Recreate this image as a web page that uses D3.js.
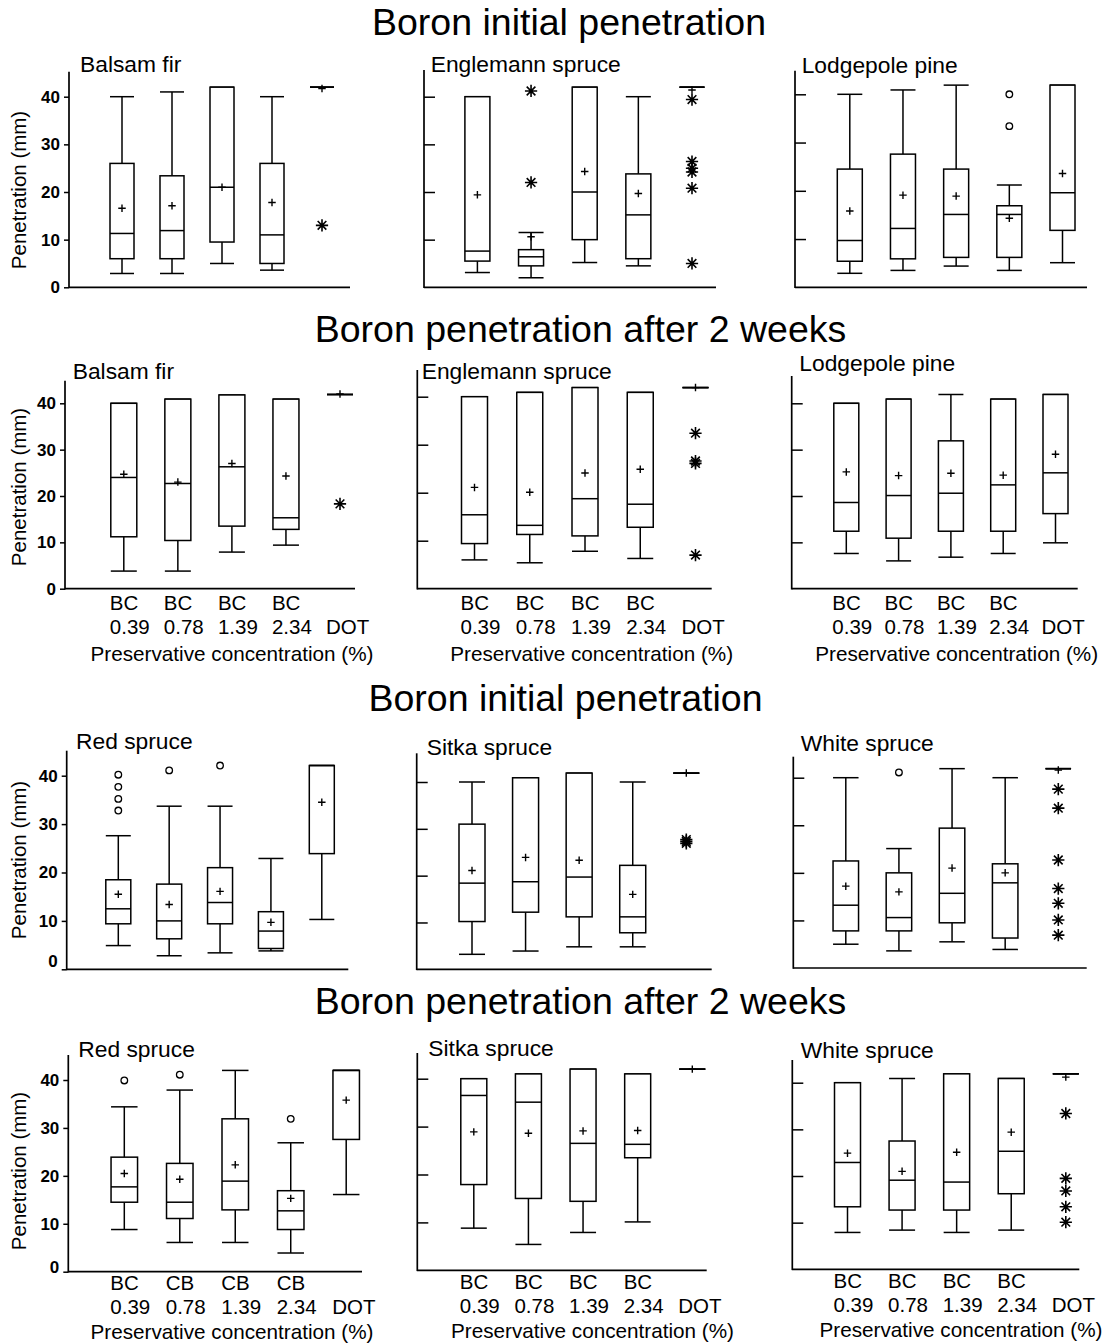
<!DOCTYPE html>
<html>
<head>
<meta charset="utf-8">
<script src="https://cdn.jsdelivr.net/npm/d3@7"></script>
<style>
  body { margin: 0; background: #fff; }
  svg { display: block; font-family: "Liberation Sans", Arial, sans-serif; }
</style>
</head>
<body>
<svg id="chart" width="1116" height="1343"></svg>
<script>
// ---- data ----------------------------------------------------------
var sectionTitles = ["Boron initial penetration", "Boron penetration after 2 weeks",
                     "Boron initial penetration", "Boron penetration after 2 weeks"];
var speciesA = ["Balsam fir", "Englemann spruce", "Lodgepole pine"];
var speciesB = ["Red spruce", "Sitka spruce", "White spruce"];
var yTicks = [0, 10, 20, 30, 40];
var productBC = ["BC", "BC", "BC", "BC", ""];
var productRed = ["BC", "CB", "CB", "CB", ""];
var concLabels = ["0.39", "0.78", "1.39", "2.34", "DOT"];
var xTitle = "Preservative concentration (%)";
var yTitle = "Penetration (mm)";

// each box: [low whisker, Q1, median, Q3, high whisker, mean]
// outliers: [group (1-5), value, "near" = circle | "far" = asterisk]
var balsamInit = [[2.9, 6, 11.3, 26, 40, 16.6], [2.9, 6, 11.9, 23.4, 41, 17.1],
  [5, 9.5, 21, 42, 42, 21], [3.6, 5, 11, 26, 40, 17.8], [42, 42, 42, 42, 42, 41.7]];
var balsamInitOut = [[5, 13, "far"]];

var englemannInit = [[3.1, 5.5, 7.6, 40, 40, 19.4], [2, 4.5, 6.4, 7.9, 11.5, 10.6],
  [5.2, 10, 20, 42, 42, 24.3], [4.5, 6, 15.2, 23.8, 40, 19.7], [42, 42, 42, 42, 42, 41.4]];
var englemannInitOut = [[2, 41.2, "far"], [2, 22, "far"], [5, 39.4, "far"], [5, 26.4, "far"],
  [5, 25, "far"], [5, 24.2, "far"], [5, 20.8, "far"], [5, 5, "far"]];

var lodgepoleInit = [[2.9, 5.4, 9.7, 24.5, 40, 15.8], [3.5, 5.9, 12.2, 27.6, 40.9, 19.1],
  [4.4, 6.2, 15.1, 24.5, 41.9, 18.9], [3.5, 6.2, 15.1, 16.9, 21.2, 14.3],
  [5.1, 11.8, 19.6, 41.9, 41.9, 23.6]];
var lodgepoleInitOut = [[4, 40, "near"], [4, 33.4, "near"]];

var balsam2w = [[3.8, 11.2, 24, 40, 40, 24.7], [3.8, 10.4, 22.7, 40.9, 40.9, 23],
  [7.9, 13.5, 26.3, 41.8, 41.8, 27], [9.4, 12.8, 15.3, 40.9, 40.9, 24.3],
  [41.9, 41.9, 41.9, 41.9, 41.9, 42]];
var balsam2wOut = [[5, 18.3, "far"]];

var englemann2w = [[6, 9.4, 15.4, 40, 40, 21.1], [5.4, 11.3, 13.2, 40.9, 40.9, 20.1],
  [7.8, 11, 18.75, 41.9, 41.9, 24.1], [6.3, 12.8, 17.6, 40.9, 40.9, 24.9],
  [41.9, 41.9, 41.9, 41.9, 41.9, 41.9]];
var englemann2wOut = [[5, 32.4, "far"], [5, 26.6, "far"], [5, 26.1, "far"], [5, 7, "far"]];

var lodgepole2w = [[7.6, 12.4, 18.6, 40, 40, 25.2], [6, 10.9, 20.1, 40.9, 40.9, 24.4],
  [6.8, 12.4, 20.6, 31.9, 41.9, 24.9], [7.6, 12.4, 22.4, 40.9, 40.9, 24.5],
  [9.9, 16.2, 25, 41.9, 41.9, 29]];
var lodgepole2wOut = [];

var redInit = [[4.9, 9.4, 12.5, 18.5, 27.6, 15.5], [2.8, 6.3, 10, 17.6, 33.7, 13.4],
  [3.4, 9.4, 13.8, 21, 33.7, 16.1], [3.8, 4.3, 7.9, 11.9, 22.9, 9.7],
  [10.3, 23.9, 42.1, 42.1, 42.1, 34.5]];
var redInitOut = [[1, 40.2, "near"], [1, 37.7, "near"], [1, 35.2, "near"], [1, 32.8, "near"],
  [2, 41.1, "near"], [3, 42.1, "near"]];

var sitkaInit = [[3.2, 10.2, 18.4, 31, 40, 21.1], [3.9, 12.2, 18.7, 40.9, 40.9, 23.9],
  [4.8, 11.2, 19.7, 41.9, 41.9, 23.3], [4.8, 7.8, 11.2, 22.2, 40, 16],
  [41.9, 41.9, 41.9, 41.9, 41.9, 41.9]];
var sitkaInitOut = [[5, 27.7, "far"], [5, 27.3, "far"], [5, 26.9, "far"]];

var whiteInit = [[5, 7.8, 13.2, 22.5, 40, 17.2], [3.6, 7.8, 10.6, 20, 25.1, 16],
  [5.5, 9.5, 15.7, 29.4, 41.9, 21], [3.9, 6.3, 17.9, 21.9, 40, 20],
  [41.9, 41.9, 41.9, 41.9, 41.9, 41.6]];
var whiteInitOut = [[2, 41.1, "near"], [5, 37.6, "far"], [5, 33.6, "far"], [5, 22.7, "far"],
  [5, 16.7, "far"], [5, 13.6, "far"], [5, 10.1, "far"], [5, 6.9, "far"]];

var red2w = [[8.8, 14.5, 17.7, 23.9, 34.4, 20.5], [6.1, 11.1, 14.5, 22.6, 37.9, 19.3],
  [6.1, 12.9, 18.9, 31.9, 42, 22.3], [3.9, 8.8, 12.7, 16.9, 26.9, 15.3],
  [16.1, 27.6, 42, 42, 42, 35.8]];
var red2wOut = [[1, 39.9, "near"], [2, 41.1, "near"], [4, 31.9, "near"]];

var sitka2w = [[8.8, 17.9, 36.5, 40, 40, 28.9], [5.4, 15, 35.1, 41, 41, 28.6],
  [7.9, 14.4, 26.5, 42, 42, 29.1], [10.1, 23.5, 26.3, 41, 41, 29.2],
  [42, 42, 42, 42, 42, 42]];
var sitka2wOut = [];

var white2w = [[7.9, 13.4, 22.9, 40, 40, 24.9], [8.4, 12.7, 19.1, 27.5, 40.9, 21],
  [7.9, 12.7, 18.7, 41.9, 41.9, 25.1], [8.4, 16.2, 25.3, 40.9, 40.9, 29.4],
  [41.9, 41.9, 41.9, 41.9, 41.9, 41.2]];
var white2wOut = [[5, 33.4, "far"], [5, 19.5, "far"], [5, 16.8, "far"], [5, 13.4, "far"], [5, 10.1, "far"]];

// ---- layout (pixels) -----------------------------------------------
var sectionLayout = [{x: 569, y: 35}, {x: 580.5, y: 342}, {x: 565.5, y: 711}, {x: 580.5, y: 1014}];

var layouts = [
  {x0: 69,    x1: 350,    c1: 122,   c5: 322,    y0: 287.3,  y40: 96.7,   top: 71.7,  tx: 80,    ty: 72,     bw: 24,   ly: 190,  z: 0},
  {x0: 424,   x1: 716,    c1: 477.4, c5: 692,    y0: 287.3,  y40: 96.7,   top: 70,    tx: 430.7, ty: 72.3,   bw: 25},
  {x0: 795,   x1: 1087,   c1: 849.8, c5: 1062.5, y0: 287.3,  y40: 94.3,   top: 70.7,  tx: 801.7, ty: 73.3,   bw: 25},
  {x0: 65,    x1: 355,    c1: 123.8, c5: 340,    y0: 588.7,  y40: 403.3,  top: 380.7, tx: 72.7,  ty: 379.3,  bw: 26,   ly: 487,  z: 0, ax: 232},
  {x0: 417.3, x1: 711.7,  c1: 474.5, c5: 695.5,  y0: 588.7,  y40: 396.7,  top: 370,   tx: 421.7, ty: 379.3,  bw: 26,   ax: 591.7},
  {x0: 791.7, x1: 1077.7, c1: 846.3, c5: 1055.5, y0: 588.7,  y40: 403.3,  top: 376,   tx: 799.3, ty: 370.7,  bw: 25,   ax: 956.7},
  {x0: 66.7,  x1: 348.3,  c1: 118.3, c5: 321.8,  y0: 969.3,  y40: 775.7,  top: 750.7, tx: 76,    ty: 749.3,  bw: 25,   ly: 860,  z: -8},
  {x0: 416.7, x1: 711.7,  c1: 472,   c5: 686.3,  y0: 969.3,  y40: 782,    top: 753.3, tx: 426.7, ty: 755,    bw: 26},
  {x0: 793.3, x1: 1086.7, c1: 845.8, c5: 1058.3, y0: 968,    y40: 777.7,  top: 756.7, tx: 800.7, ty: 750.7,  bw: 25.5},
  {x0: 68.3,  x1: 362,    c1: 124.3, c5: 346.2,  y0: 1271.7, y40: 1080,   top: 1055,  tx: 78.3,  ty: 1057.3, bw: 26.5, ly: 1171, z: -5, ax: 232},
  {x0: 417.3, x1: 706.7,  c1: 473.8, c5: 692.3,  y0: 1270.3, y40: 1078.7, top: 1053,  tx: 428.3, ty: 1056,   bw: 26,   ax: 592.5},
  {x0: 792.3, x1: 1079.3, c1: 847.5, c5: 1065.8, y0: 1269.3, y40: 1082.7, top: 1060,  tx: 800.7, ty: 1058.3, bw: 26,   ax: 961}
];
// offsets of the category label lines below the x axis, per row
var labelRows = {1: [21, 45, 72.5], 3: [18.5, 42.5, 67.5]};

var panels = [
  {title: speciesA[0], stats: balsamInit,    out: balsamInitOut},
  {title: speciesA[1], stats: englemannInit, out: englemannInitOut},
  {title: speciesA[2], stats: lodgepoleInit, out: lodgepoleInitOut},
  {title: speciesA[0], stats: balsam2w,      out: balsam2wOut,      top: productBC},
  {title: speciesA[1], stats: englemann2w,   out: englemann2wOut,   top: productBC},
  {title: speciesA[2], stats: lodgepole2w,   out: lodgepole2wOut,   top: productBC},
  {title: speciesB[0], stats: redInit,       out: redInitOut},
  {title: speciesB[1], stats: sitkaInit,     out: sitkaInitOut},
  {title: speciesB[2], stats: whiteInit,     out: whiteInitOut},
  {title: speciesB[0], stats: red2w,         out: red2wOut,         top: productRed},
  {title: speciesB[1], stats: sitka2w,       out: sitka2wOut,       top: productBC},
  {title: speciesB[2], stats: white2w,       out: white2wOut,       top: productBC}
];

// ---- symbols -------------------------------------------------------
var plusSymbol = {
  draw: function(ctx, size) {
    var r = Math.sqrt(size) / 2;
    ctx.moveTo(-r, 0); ctx.lineTo(r, 0);
    ctx.moveTo(0, -r); ctx.lineTo(0, r);
  }
};
var asteriskSymbol = {
  draw: function(ctx, size) {
    var r = Math.sqrt(size) / 2;
    for (var k = 0; k < 4; k++) {
      var a = k * Math.PI / 4;
      ctx.moveTo(-r * Math.cos(a), -r * Math.sin(a));
      ctx.lineTo(r * Math.cos(a), r * Math.sin(a));
    }
  }
};

var svg = d3.select("#chart");
var LW = 1.5;

svg.selectAll(".section-title")
  .data(sectionTitles)
  .enter().append("text")
    .attr("class", "section-title")
    .attr("x", (d, i) => sectionLayout[i].x)
    .attr("y", (d, i) => sectionLayout[i].y)
    .attr("text-anchor", "middle")
    .attr("font-size", 37.5)
    .text(d => d);

panels.forEach(function(p, idx) {
  var L = layouts[idx];
  var row = Math.floor(idx / 3);
  var labeled = idx % 3 === 0;
  var g = svg.append("g").attr("class", "panel");

  var x = d3.scaleLinear().domain([1, 5]).range([L.c1, L.c5]);
  var y = d3.scaleLinear().domain([0, 40]).range([L.y0, L.y40]);

  // axis lines
  g.append("line")
    .attr("x1", L.x0).attr("x2", L.x0).attr("y1", L.y0 + 0.8).attr("y2", L.top)
    .attr("stroke", "#000").attr("stroke-width", 1.7);
  g.append("line")
    .attr("x1", L.x0).attr("x2", L.x1).attr("y1", L.y0).attr("y2", L.y0)
    .attr("stroke", "#000").attr("stroke-width", 1.7);

  var yAxis;
  if (labeled) {
    yAxis = d3.axisLeft(y).tickValues(yTicks).tickSize(5).tickPadding(4);
  } else {
    yAxis = d3.axisRight(y).tickValues(yTicks.slice(1)).tickSize(11).tickFormat("");
  }
  var gy = g.append("g")
    .attr("transform", `translate(${L.x0},0)`)
    .call(yAxis);
  gy.select(".domain").remove();
  gy.attr("font-family", null).attr("font-size", null);
  gy.selectAll("line").attr("stroke-width", LW);
  gy.selectAll("text")
    .attr("font-size", 17)
    .attr("font-weight", "bold")
    .attr("fill", "#000");

  if (labeled) {
    // the zero label sits a little above the axis in the lower rows
    gy.selectAll(".tick").filter(d => d === 0).select("text")
      .attr("y", L.z);
    g.append("text")
      .attr("transform", `translate(25.5, ${L.ly}) rotate(-90)`)
      .attr("text-anchor", "middle")
      .attr("font-size", 20.5)
      .text(yTitle);
  }

  // panel title
  g.append("text")
    .attr("x", L.tx).attr("y", L.ty)
    .attr("font-size", 22.8)
    .text(p.title);

  // boxes
  var box = g.selectAll(".box")
    .data(p.stats)
    .enter().append("g")
      .attr("class", "box")
      .attr("transform", (d, i) => `translate(${x(i + 1)},0)`);

  var hw = L.bw / 2;
  box.append("line")   // lower whisker
    .attr("x1", 0).attr("x2", 0)
    .attr("y1", d => y(d[0])).attr("y2", d => y(d[1]));
  box.append("line")   // upper whisker
    .attr("x1", 0).attr("x2", 0)
    .attr("y1", d => y(d[3])).attr("y2", d => y(d[4]));
  box.append("line")   // lower cap
    .attr("x1", -hw).attr("x2", hw)
    .attr("y1", d => y(d[0])).attr("y2", d => y(d[0]));
  box.append("line")   // upper cap
    .attr("x1", -hw).attr("x2", hw)
    .attr("y1", d => y(d[4])).attr("y2", d => y(d[4]));
  box.append("rect")
    .attr("x", -hw).attr("width", L.bw)
    .attr("y", d => y(d[3]))
    .attr("height", d => y(d[1]) - y(d[3]))
    .attr("fill", "#fff");
  box.append("line")   // median
    .attr("x1", -hw).attr("x2", hw)
    .attr("y1", d => y(d[2])).attr("y2", d => y(d[2]));
  box.append("path")   // mean
    .attr("transform", d => `translate(0,${y(d[5])})`)
    .attr("d", d3.symbol().type(plusSymbol).size(56)());
  box.selectAll("line, rect, path")
    .attr("stroke", "#000")
    .attr("stroke-width", LW)
    .attr("fill", function() { return this.tagName === "rect" ? "#fff" : "none"; });
  box.selectAll("path").attr("stroke-width", 1.4);

  // outliers
  g.selectAll(".outlier")
    .data(p.out)
    .enter().append("path")
      .attr("class", "outlier")
      .attr("transform", d => `translate(${x(d[0])},${y(d[1])})`)
      .attr("d", d => d[2] === "near"
        ? d3.symbol().type(d3.symbolCircle).size(34)()
        : d3.symbol().type(asteriskSymbol).size(150)())
      .attr("fill", "none")
      .attr("stroke", "#000")
      .attr("stroke-width", d => d[2] === "near" ? 1.3 : 1.6);

  // two-line category labels (product / concentration) for the rows that carry them
  if (p.top) {
    var off = labelRows[row];
    var lab = g.selectAll(".cat")
      .data(concLabels)
      .enter().append("text")
        .attr("class", "cat")
        .attr("font-size", 20.5);
    lab.each(function(d, i) {
      var t = d3.select(this);
      var lx = x(i + 1) - 14;
      if (p.top[i]) {
        t.append("tspan").attr("x", lx).attr("y", L.y0 + off[0]).text(p.top[i]);
      }
      t.append("tspan").attr("x", lx).attr("y", L.y0 + off[1]).text(d);
    });
    g.append("text")
      .attr("x", L.ax)
      .attr("y", L.y0 + off[2])
      .attr("text-anchor", "middle")
      .attr("font-size", 20.7)
      .text(xTitle);
  }
});
</script>
</body>
</html>
